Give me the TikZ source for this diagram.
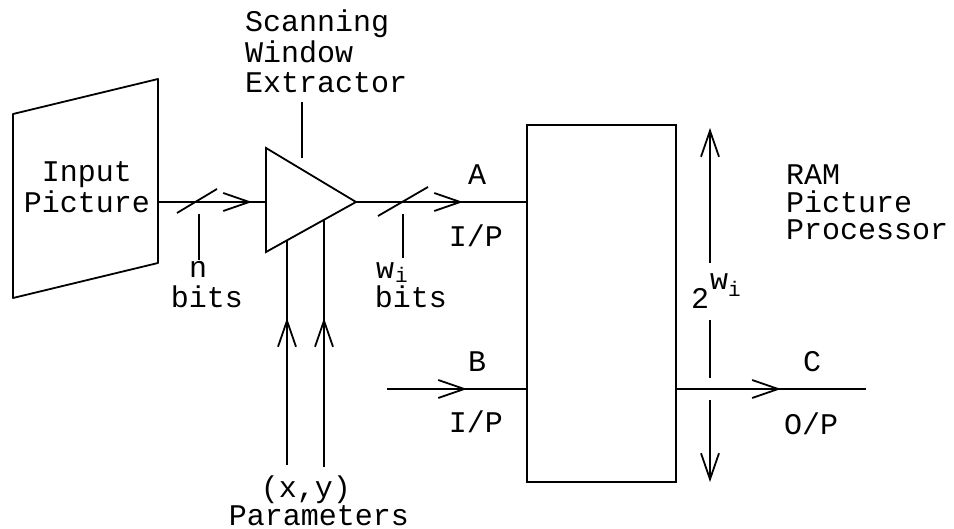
\documentclass[tikz,border=0pt]{standalone}
\usepackage{fontspec}
\setmainfont{Liberation Mono}
\usetikzlibrary{arrows.meta,decorations.markings}
\begin{document}
\begin{tikzpicture}[x=1pt,y=-1pt,
  sig/.style={line width=2.6pt},
  outl/.style={line width=1.8pt},
  vtip/.tip={Straight Barb[length=26pt,width=18pt,line width=1.8pt]},
  midarrow/.style={postaction={decorate},decoration={markings,mark=at position #1 with {\arrow{vtip}}}},
  lbl/.style={font=\fontsize{30}{30}\selectfont, inner sep=0pt, anchor=base},
  lblw/.style={lbl, anchor=base west}
]
\useasboundingbox (0,0) rectangle (954,529);

% input picture (parallelogram)
\coordinate (pTL) at (13,114);
\coordinate (pTR) at (158,79);
\coordinate (pBR) at (158,263);
\coordinate (pBL) at (13,298);
\draw[outl, line join=round] (pTL) -- (pTR) -- (pBR) -- (pBL) -- cycle;
\node[lbl] (inp1) at (87,182) {Input};
\node[lbl] (inp2) at (87,213) {Picture};

% scanning window extractor (triangle)
\coordinate (tT) at (266,148);
\coordinate (tB) at (266,252);
\coordinate (tA) at (356,202);
\draw[outl, line join=miter] (tT) -- (tA) -- (tB) -- cycle;
\coordinate (tL) at (266,202);
\coordinate (inR) at (158,202);

\node[lblw] (sw1) at (245,32) {Scanning};
\node[lblw] (sw2) at (245,63) {Window};
\node[lblw] (sw3) at (245,93) {Extractor};
\coordinate (swT) at (302,102);
\coordinate (swB) at (302,158);
\draw[outl] (swT) -- (swB);

% RAM box
\node[draw, outl, minimum width=149pt, minimum height=357pt, inner sep=0pt] (ram) at (601.5,303.5) {};
\node[lblw] (r1) at (786,185) {RAM};
\node[lblw] (r2) at (786,213) {Picture};
\node[lblw] (r3) at (786,240) {Processor};

% input line n bits
\draw[sig, midarrow=94pt] (inR) -- (tL);
\coordinate (s1a) at (177,213);
\coordinate (s1b) at (217,189);
\draw[outl] (s1a) -- (s1b);
\coordinate (k1a) at (199,214);
\coordinate (k1b) at (199,260);
\draw[outl] (k1a) -- (k1b);
\node[lbl] (nlab) at (198,278) {n};
\node[lbl] (nbits) at (207,308) {bits};

% output line A
\draw[sig, midarrow=107pt] (tA) -- (tA -| ram.west);
\coordinate (s2a) at (378,216);
\coordinate (s2b) at (428,187);
\draw[outl] (s2a) -- (s2b);
\coordinate (k2a) at (403,214);
\coordinate (k2b) at (403,258);
\draw[outl] (k2a) -- (k2b);
\node[lblw] (wlab) at (376,279) {w\kern1pt\raisebox{-4pt}{\fontsize{21}{21}\selectfont i}};
\node[lbl] (wbits) at (411,308) {bits};
\node[lbl] (alab) at (477,185) {A};
\node[lbl] (aip) at (476,247) {I/P};

% B input
\coordinate (bIn) at (387,389);
\draw[sig, midarrow=80pt] (bIn) -- (bIn -| ram.west);
\node[lbl] (blab) at (477,372) {B};
\node[lbl] (bip) at (476,433) {I/P};

% C output
\coordinate (cOut) at (866,389);
\draw[sig, midarrow=104pt] (cOut -| ram.east) -- (cOut);
\node[lbl] (clab) at (812,372) {C};
\node[lbl] (cop) at (811,435) {O/P};

% parameters
\coordinate (q1b) at (287,465);
\coordinate (q1t) at (287,240);
\coordinate (q2b) at (324,467);
\coordinate (q2t) at (324,220);
\draw[outl, midarrow=147pt] (q1b) -- (q1t);
\draw[outl, midarrow=149pt] (q2b) -- (q2t);
\node[lbl] (xy) at (306,497) {(x,y)};
\node[lbl] (par) at (319,525) {Parameters};

% 2^wi dimension arrow
\coordinate (d0) at (710,128);
\coordinate (d1) at (710,263);
\coordinate (d2) at (710,320);
\coordinate (d3) at (710,378);
\coordinate (d4) at (710,400);
\coordinate (d5) at (710,482);
\draw[outl, {vtip}-] (d0) -- (d1);
\draw[outl] (d2) -- (d3);
\draw[outl, -{vtip}] (d4) -- (d5);
\node[lblw] (twow) at (691,309) {2\kern1pt\raisebox{19pt}{w\raisebox{-7pt}{\fontsize{21}{21}\selectfont i}}};
\end{tikzpicture}
\end{document}
